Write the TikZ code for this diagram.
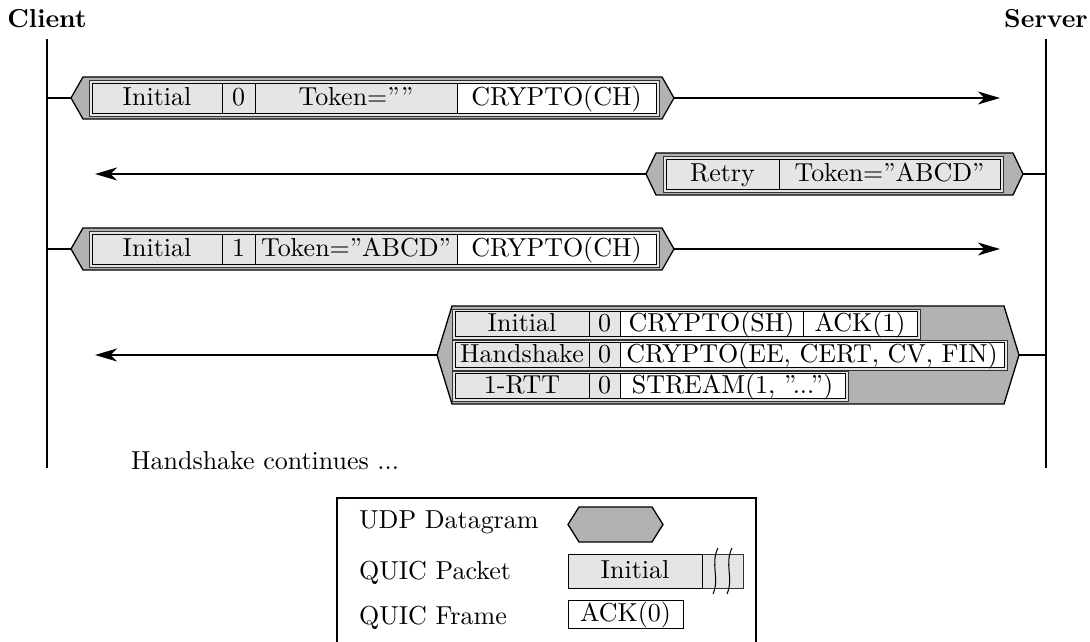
\documentclass[tikz,border=0pt]{standalone}
\usetikzlibrary{arrows.meta}
\definecolor{dgfill}{gray}{0.7}
\definecolor{pkfill}{gray}{0.9}
\newcommand{\pxu}{0.385pt}
\tikzset{
 cellbase/.style={draw=black, line width=0.35pt, inner sep=0pt, outer sep=0pt, text height=7pt, text depth=1pt, anchor=center},
 hdrcell/.style={cellbase, fill=pkfill},
 frmcell/.style={cellbase, fill=white},
 pktbox/.style={draw=black!80, line width=0.35pt, fill=pkfill, inner sep=0pt, outer sep=0pt, anchor=center},
 dgshape/.style={draw=black, line width=0.5pt, fill=dgfill, line join=miter},
 lifeline/.style={line width=0.5pt},
 msg/.style={line width=0.6pt, -{Stealth[length=8.5pt,width=5pt,inset=2.5pt]}},
 plainline/.style={line width=0.6pt},
 actor/.style={font=\bfseries, anchor=base},
 legtext/.style={anchor=base west},
}
\newcommand{\qbox}[7]{\node[#6, minimum width={(#4-#2)*\pxu}, minimum height={(#5-#3)*\pxu}] (#1) at ({(#2+#4)/2},{(#3+#5)/2}) {#7};}
\newcommand{\dgram}[6]{%
 \path[dgshape] (#2,{(#4+#5)/2}) -- ({#2+#6},#4) -- ({#3-#6},#4) -- (#3,{(#4+#5)/2}) -- ({#3-#6},#5) -- ({#2+#6},#5) -- cycle;
 \coordinate (#1w) at (#2,{(#4+#5)/2});
 \coordinate (#1e) at (#3,{(#4+#5)/2});}
\begin{document}
\begin{tikzpicture}[x=0.385pt,y=-0.385pt]
\useasboundingbox (0,0) rectangle (1090,642);
% actors and lifelines
\node[actor] (client) at (47,28) {Client};
\node[actor] (server) at (1046,28) {Server};
\coordinate (ctop) at (47,39); \coordinate (cbot) at (47,468);
\coordinate (stop) at (1046,39); \coordinate (sbot) at (1046,468);
\draw[lifeline] (ctop) -- (cbot);
\draw[lifeline] (stop) -- (sbot);
% row 1
\dgram{h1}{71}{674}{77}{119}{12}
\qbox{p1}{89}{80}{659}{116}{pktbox}{}
\qbox{p1a}{92}{83}{222}{113}{hdrcell}{Initial}
\qbox{p1b}{222}{83}{255}{113}{hdrcell}{0}
\qbox{p1c}{255}{83}{457}{113}{hdrcell}{Token=””}
\qbox{p1d}{457}{83}{656}{113}{frmcell}{CRYPTO(CH)}
\coordinate (c1) at (47,98); \coordinate (s1) at (1000,98);
\draw[plainline] (c1) -- (h1w);
\draw[msg] (h1e) -- (s1);
% row 2
\dgram{h2}{646}{1023}{153}{195}{10}
\qbox{p2}{663}{156}{1003}{192}{pktbox}{}
\qbox{p2a}{666}{159}{779}{189}{hdrcell}{Retry}
\qbox{p2b}{779}{159}{1000}{189}{hdrcell}{Token=”ABCD”}
\coordinate (s2) at (1046,174); \coordinate (c2) at (95,174);
\draw[plainline] (s2) -- (h2e);
\draw[msg] (h2w) -- (c2);
% row 3
\dgram{h3}{71}{674}{228}{270}{12}
\qbox{p3}{89}{231}{659}{267}{pktbox}{}
\qbox{p3a}{92}{234}{222}{264}{hdrcell}{Initial}
\qbox{p3b}{222}{234}{255}{264}{hdrcell}{1}
\qbox{p3c}{255}{234}{457}{264}{hdrcell}{Token=”ABCD”}
\qbox{p3d}{457}{234}{656}{264}{frmcell}{CRYPTO(CH)}
\coordinate (c3) at (47,249); \coordinate (s3) at (1000,249);
\draw[plainline] (c3) -- (h3w);
\draw[msg] (h3e) -- (s3);
% row 4
\dgram{h4}{437}{1019}{306}{404}{15}
\qbox{p4}{452}{309}{920}{339}{pktbox}{}
\qbox{p4a}{455}{311.5}{589}{336.5}{hdrcell}{Initial}
\qbox{p4b}{589}{311.5}{620}{336.5}{hdrcell}{0}
\qbox{p4c}{620}{311.5}{803}{336.5}{frmcell}{CRYPTO(SH)}
\qbox{p4d}{803}{311.5}{917}{336.5}{frmcell}{ACK(1)}
\qbox{p5}{452}{340}{1007}{370}{pktbox}{}
\qbox{p5a}{455}{342.5}{589}{367.5}{hdrcell}{Handshake}
\qbox{p5b}{589}{342.5}{620}{367.5}{hdrcell}{0}
\qbox{p5c}{620}{342.5}{1004}{367.5}{frmcell}{CRYPTO(EE, CERT, CV, FIN)}
\qbox{p6}{452}{371}{848}{401}{pktbox}{}
\qbox{p6a}{455}{373.5}{589}{398.5}{hdrcell}{1-RTT}
\qbox{p6b}{589}{373.5}{620}{398.5}{hdrcell}{0}
\qbox{p6c}{620}{373.5}{845}{398.5}{frmcell}{STREAM(1, ”...”)}
\coordinate (s4) at (1046,355); \coordinate (c4) at (95,355);
\draw[plainline] (s4) -- (h4e);
\draw[msg] (h4w) -- (c4);
% continues
\node[legtext] (cont) at (122,470) {Handshake continues ...};
% legend
\draw[line width=0.5pt] (337,642) -- (337,498) -- (756,498) -- (756,642);
\node[legtext] (lg1) at (350,529) {UDP Datagram};
\node[legtext] (lg2) at (350,580) {QUIC Packet};
\node[legtext] (lg3) at (350,625) {QUIC Frame};
\dgram{hl}{568}{663}{507}{542}{11}
\qbox{lp}{568}{554}{743}{588}{pktbox}{}
\qbox{lpa}{568}{554}{702}{588}{hdrcell}{Initial}
\draw[line width=0.4pt] (718,548) .. controls (710,564) and (720,578) .. (713,594);
\draw[line width=0.4pt] (732,548) .. controls (724,564) and (734,578) .. (727,594);
\qbox{lf}{568}{600}{683}{628}{frmcell}{ACK(0)}
\end{tikzpicture}
\end{document}
